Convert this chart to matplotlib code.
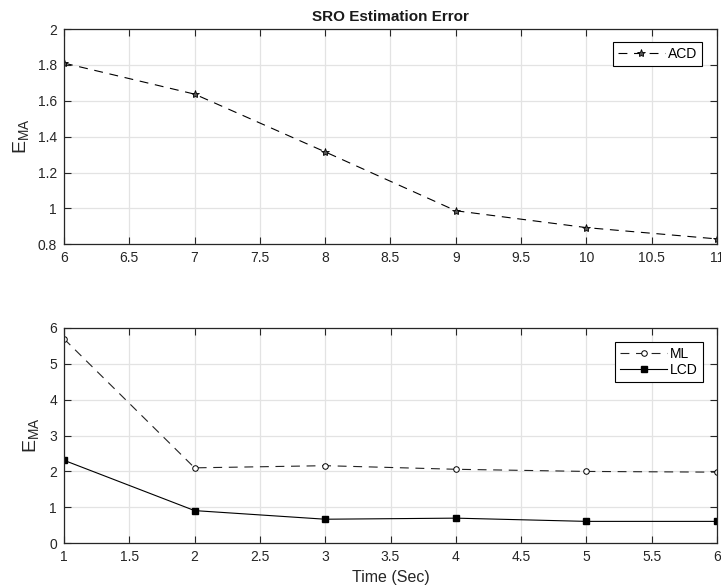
import matplotlib
matplotlib.use("Agg")
import matplotlib.pyplot as plt
from matplotlib.ticker import MultipleLocator, FuncFormatter

plt.rcParams['font.family'] = ['Liberation Sans', 'DejaVu Sans']
plt.rcParams['mathtext.fontset'] = 'custom'
plt.rcParams['mathtext.rm'] = 'Liberation Sans'

# Upper panel: ACD error against time
acd_time = [6, 7, 8, 9, 10, 11]
acd_err = [1.81, 1.637, 1.315, 0.987, 0.893, 0.830]

# Lower panel: ML and LCD errors against time
time = [1, 2, 3, 4, 5, 6]
ml_err = [5.69, 2.10, 2.16, 2.06, 2.00, 1.98]
lcd_err = [2.31, 0.91, 0.67, 0.70, 0.61, 0.61]

title = "SRO Estimation Error"
xlabel = "Time (Sec)"
ylabel = r"$\mathregular{E_{MA}}$"

W, H = 721, 588
fig = plt.figure(figsize=(W / 100, H / 100), dpi=100)

ax_color = '#262626'
grid_color = '#e3e3e3'


def style(ax):
    ax.grid(True, color=grid_color, linewidth=0.9)
    ax.set_axisbelow(True)
    for s in ax.spines.values():
        s.set_color(ax_color)
        s.set_linewidth(0.9)
    ax.tick_params(direction='in', length=5, width=0.8, top=True, right=True,
                   labelsize=10, colors=ax_color, pad=5)
    fmt = FuncFormatter(lambda v, p: f"{v:g}")
    ax.xaxis.set_major_formatter(fmt)
    ax.yaxis.set_major_formatter(fmt)


leg_kw = dict(loc='upper right', borderaxespad=0, fontsize=10, fancybox=False,
              framealpha=1, edgecolor='black', handlelength=3.4,
              borderpad=0.35, handletextpad=0.2, labelspacing=0.2)

ax1 = fig.add_axes([64 / W, 1 - 244.3 / H, 653 / W, 215.3 / H])
ax1.plot(acd_time, acd_err, color='black', linestyle=(0, (8, 6)), linewidth=0.8,
         marker='*', markersize=6, markerfacecolor='#555555',
         markeredgecolor='black', markeredgewidth=0.6, label='ACD')
ax1.set_xlim(6, 11)
ax1.set_ylim(0.8, 2)
ax1.xaxis.set_major_locator(MultipleLocator(0.5))
ax1.yaxis.set_major_locator(MultipleLocator(0.2))
style(ax1)
ax1.set_ylabel(ylabel, fontsize=14, color=ax_color, labelpad=5)
ax1.set_title(title, fontsize=11, fontweight='bold', color='#1a1a1a', pad=6)
leg1 = ax1.legend(bbox_to_anchor=(0.9766, 0.938), **leg_kw)
leg1.get_frame().set_linewidth(0.8)

ax2 = fig.add_axes([64 / W, 1 - 543.3 / H, 653 / W, 215.6 / H])
ax2.plot(time, ml_err, color='#222222', linestyle=(0, (8, 6)), linewidth=0.8,
         marker='o', markersize=4, markerfacecolor='white',
         markeredgecolor='black', markeredgewidth=0.7, label='ML')
ax2.plot(time, lcd_err, color='black', linestyle='-', linewidth=0.8,
         marker='s', markersize=3.8, markerfacecolor='black',
         markeredgecolor='black', label='LCD')
ax2.set_xlim(1, 6)
ax2.set_ylim(0, 6)
ax2.xaxis.set_major_locator(MultipleLocator(0.5))
ax2.yaxis.set_major_locator(MultipleLocator(1))
style(ax2)
ax2.set_ylabel(ylabel, fontsize=14, color=ax_color, labelpad=6)
ax2.set_xlabel(xlabel, fontsize=11.5, color=ax_color, labelpad=4)
leg2 = ax2.legend(bbox_to_anchor=(0.978, 0.935), **leg_kw)
leg2.get_frame().set_linewidth(0.8)

fig.savefig("out.png", dpi=100)
